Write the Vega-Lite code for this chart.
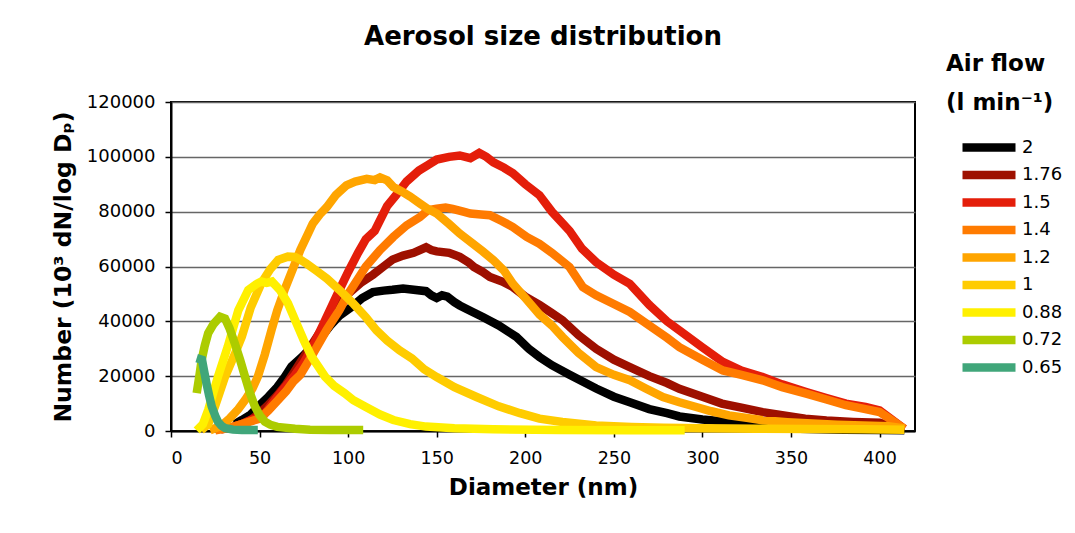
{
  "$schema": "https://vega.github.io/schema/vega-lite/v6.json",
  "width": 744,
  "height": 329,
  "autosize": {"type": "none"},
  "padding": {"left": 171, "top": 102, "right": 160, "bottom": 102},
  "background": "white",
  "title": {"text": "Aerosol size distribution", "fontSize": 26, "fontWeight": "bold", "font": "DejaVu Sans", "color": "black", "offset": 3, "anchor": "middle"},
  "config": {
    "font": "DejaVu Sans",
    "view": {"stroke": "black", "strokeWidth": 2}
  },
  "data": {"values": [
    {"s":"2","d":36,"v":2500},{"s":"2","d":40,"v":4000},{"s":"2","d":45,"v":6000},{"s":"2","d":51,"v":10000},{"s":"2","d":55,"v":12500},{"s":"2","d":60,"v":16000},{"s":"2","d":64,"v":19500},{"s":"2","d":68,"v":23500},{"s":"2","d":74,"v":27000},{"s":"2","d":80,"v":31000},{"s":"2","d":85,"v":34400},{"s":"2","d":90,"v":38500},{"s":"2","d":95,"v":42000},{"s":"2","d":102,"v":45300},{"s":"2","d":108,"v":48500},{"s":"2","d":114,"v":50700},{"s":"2","d":120,"v":51200},{"s":"2","d":125,"v":51500},{"s":"2","d":131,"v":52000},{"s":"2","d":137,"v":51500},{"s":"2","d":144,"v":51000},{"s":"2","d":147,"v":49500},{"s":"2","d":150,"v":48500},{"s":"2","d":153,"v":49500},{"s":"2","d":156,"v":49000},{"s":"2","d":160,"v":47000},{"s":"2","d":163,"v":45800},{"s":"2","d":170,"v":43500},{"s":"2","d":176,"v":41600},{"s":"2","d":185,"v":38500},{"s":"2","d":195,"v":34300},{"s":"2","d":202,"v":30000},{"s":"2","d":208,"v":27000},{"s":"2","d":215,"v":24000},{"s":"2","d":225,"v":20500},{"s":"2","d":231,"v":18500},{"s":"2","d":240,"v":15500},{"s":"2","d":250,"v":12500},{"s":"2","d":259,"v":10500},{"s":"2","d":270,"v":8000},{"s":"2","d":280,"v":6500},{"s":"2","d":287,"v":5300},{"s":"2","d":300,"v":4200},{"s":"2","d":315,"v":3300},{"s":"2","d":325,"v":2500},{"s":"2","d":334,"v":1500},{"s":"2","d":345,"v":1000},{"s":"2","d":360,"v":700},{"s":"2","d":380,"v":500},{"s":"2","d":400,"v":400},{"s":"2","d":414,"v":300},

    {"s":"1.76","d":33,"v":1000},{"s":"1.76","d":40,"v":2500},{"s":"1.76","d":45,"v":4000},{"s":"1.76","d":50,"v":6500},{"s":"1.76","d":55,"v":9500},{"s":"1.76","d":60,"v":13000},{"s":"1.76","d":65,"v":17000},{"s":"1.76","d":70,"v":22000},{"s":"1.76","d":76,"v":28000},{"s":"1.76","d":84,"v":36000},{"s":"1.76","d":92,"v":44000},{"s":"1.76","d":100,"v":50000},{"s":"1.76","d":107,"v":54000},{"s":"1.76","d":114,"v":57000},{"s":"1.76","d":120,"v":60000},{"s":"1.76","d":125,"v":62500},{"s":"1.76","d":131,"v":64000},{"s":"1.76","d":137,"v":65000},{"s":"1.76","d":144,"v":67000},{"s":"1.76","d":147,"v":66000},{"s":"1.76","d":150,"v":65500},{"s":"1.76","d":157,"v":65000},{"s":"1.76","d":163,"v":63500},{"s":"1.76","d":168,"v":61500},{"s":"1.76","d":171,"v":59800},{"s":"1.76","d":176,"v":58000},{"s":"1.76","d":180,"v":56200},{"s":"1.76","d":187,"v":54500},{"s":"1.76","d":193,"v":52500},{"s":"1.76","d":200,"v":49000},{"s":"1.76","d":208,"v":46000},{"s":"1.76","d":215,"v":43000},{"s":"1.76","d":221,"v":40400},{"s":"1.76","d":230,"v":35000},{"s":"1.76","d":240,"v":30000},{"s":"1.76","d":250,"v":26000},{"s":"1.76","d":259,"v":23300},{"s":"1.76","d":270,"v":20000},{"s":"1.76","d":280,"v":17500},{"s":"1.76","d":287,"v":15400},{"s":"1.76","d":300,"v":12500},{"s":"1.76","d":311,"v":10000},{"s":"1.76","d":322,"v":8500},{"s":"1.76","d":334,"v":6900},{"s":"1.76","d":345,"v":5800},{"s":"1.76","d":358,"v":4500},{"s":"1.76","d":370,"v":3800},{"s":"1.76","d":385,"v":3300},{"s":"1.76","d":400,"v":3000},{"s":"1.76","d":414,"v":500},

    {"s":"1.5","d":28,"v":500},{"s":"1.5","d":35,"v":1500},{"s":"1.5","d":40,"v":2500},{"s":"1.5","d":45,"v":4000},{"s":"1.5","d":52,"v":5500},{"s":"1.5","d":56,"v":9000},{"s":"1.5","d":60,"v":12500},{"s":"1.5","d":65,"v":16500},{"s":"1.5","d":70,"v":20500},{"s":"1.5","d":75,"v":25000},{"s":"1.5","d":79,"v":29500},{"s":"1.5","d":86,"v":39000},{"s":"1.5","d":94,"v":50000},{"s":"1.5","d":100,"v":58000},{"s":"1.5","d":105.6,"v":65000},{"s":"1.5","d":110,"v":70000},{"s":"1.5","d":115,"v":73000},{"s":"1.5","d":122,"v":82000},{"s":"1.5","d":127,"v":86000},{"s":"1.5","d":133,"v":91000},{"s":"1.5","d":140,"v":95000},{"s":"1.5","d":145,"v":97000},{"s":"1.5","d":150,"v":99000},{"s":"1.5","d":157,"v":100000},{"s":"1.5","d":163,"v":100500},{"s":"1.5","d":169,"v":99500},{"s":"1.5","d":174,"v":101400},{"s":"1.5","d":178,"v":100000},{"s":"1.5","d":182,"v":98000},{"s":"1.5","d":188,"v":96000},{"s":"1.5","d":193,"v":94000},{"s":"1.5","d":200,"v":90000},{"s":"1.5","d":208,"v":86000},{"s":"1.5","d":215,"v":80000},{"s":"1.5","d":225,"v":73000},{"s":"1.5","d":232,"v":66500},{"s":"1.5","d":240,"v":61600},{"s":"1.5","d":250,"v":57000},{"s":"1.5","d":259,"v":53700},{"s":"1.5","d":270,"v":46000},{"s":"1.5","d":280,"v":40000},{"s":"1.5","d":287,"v":36700},{"s":"1.5","d":300,"v":30500},{"s":"1.5","d":311.5,"v":25200},{"s":"1.5","d":322,"v":22000},{"s":"1.5","d":334,"v":19700},{"s":"1.5","d":345,"v":17000},{"s":"1.5","d":358.6,"v":14200},{"s":"1.5","d":370,"v":12000},{"s":"1.5","d":381,"v":10000},{"s":"1.5","d":392,"v":8800},{"s":"1.5","d":400,"v":7500},{"s":"1.5","d":414,"v":800},

    {"s":"1.4","d":25,"v":300},{"s":"1.4","d":30,"v":800},{"s":"1.4","d":35,"v":1500},{"s":"1.4","d":40,"v":2500},{"s":"1.4","d":45,"v":3500},{"s":"1.4","d":50,"v":4500},{"s":"1.4","d":55,"v":7500},{"s":"1.4","d":60,"v":11000},{"s":"1.4","d":65,"v":14500},{"s":"1.4","d":69,"v":18000},{"s":"1.4","d":73,"v":20500},{"s":"1.4","d":80,"v":28000},{"s":"1.4","d":88,"v":37000},{"s":"1.4","d":95,"v":44000},{"s":"1.4","d":100,"v":50000},{"s":"1.4","d":105,"v":55000},{"s":"1.4","d":110,"v":60000},{"s":"1.4","d":118,"v":66000},{"s":"1.4","d":125.5,"v":70800},{"s":"1.4","d":133,"v":75000},{"s":"1.4","d":140.5,"v":78000},{"s":"1.4","d":145,"v":80500},{"s":"1.4","d":150,"v":81100},{"s":"1.4","d":155,"v":81500},{"s":"1.4","d":159,"v":81000},{"s":"1.4","d":165,"v":80000},{"s":"1.4","d":169,"v":79300},{"s":"1.4","d":175,"v":79000},{"s":"1.4","d":180,"v":78700},{"s":"1.4","d":187,"v":76500},{"s":"1.4","d":193,"v":74400},{"s":"1.4","d":200.8,"v":70800},{"s":"1.4","d":208,"v":68300},{"s":"1.4","d":215,"v":65000},{"s":"1.4","d":225,"v":59800},{"s":"1.4","d":232.5,"v":52500},{"s":"1.4","d":240,"v":49500},{"s":"1.4","d":249.4,"v":46500},{"s":"1.4","d":259,"v":43400},{"s":"1.4","d":270,"v":38500},{"s":"1.4","d":280,"v":34000},{"s":"1.4","d":287,"v":30600},{"s":"1.4","d":300,"v":26000},{"s":"1.4","d":311.5,"v":22100},{"s":"1.4","d":322,"v":20500},{"s":"1.4","d":334,"v":18500},{"s":"1.4","d":345,"v":16000},{"s":"1.4","d":358.6,"v":13600},{"s":"1.4","d":370,"v":11500},{"s":"1.4","d":381,"v":9400},{"s":"1.4","d":392,"v":8000},{"s":"1.4","d":400,"v":6900},{"s":"1.4","d":414,"v":800},

    {"s":"1.2","d":22,"v":200},{"s":"1.2","d":28.6,"v":2000},{"s":"1.2","d":33,"v":4500},{"s":"1.2","d":38,"v":8000},{"s":"1.2","d":42,"v":11500},{"s":"1.2","d":46,"v":15500},{"s":"1.2","d":49,"v":19800},{"s":"1.2","d":53,"v":28000},{"s":"1.2","d":56.8,"v":37000},{"s":"1.2","d":60,"v":44000},{"s":"1.2","d":64.4,"v":52000},{"s":"1.2","d":69,"v":59500},{"s":"1.2","d":73,"v":66000},{"s":"1.2","d":77,"v":71500},{"s":"1.2","d":80,"v":75600},{"s":"1.2","d":84,"v":79000},{"s":"1.2","d":88,"v":81700},{"s":"1.2","d":93,"v":86000},{"s":"1.2","d":99,"v":89600},{"s":"1.2","d":104,"v":91000},{"s":"1.2","d":110.5,"v":92000},{"s":"1.2","d":115,"v":91500},{"s":"1.2","d":118,"v":92500},{"s":"1.2","d":122,"v":91400},{"s":"1.2","d":125.5,"v":89000},{"s":"1.2","d":130,"v":87500},{"s":"1.2","d":135,"v":85500},{"s":"1.2","d":140.5,"v":83000},{"s":"1.2","d":145,"v":81000},{"s":"1.2","d":150,"v":79300},{"s":"1.2","d":157,"v":75500},{"s":"1.2","d":163,"v":72000},{"s":"1.2","d":170,"v":68500},{"s":"1.2","d":176,"v":65500},{"s":"1.2","d":182,"v":62300},{"s":"1.2","d":188,"v":58500},{"s":"1.2","d":193,"v":53700},{"s":"1.2","d":200,"v":48500},{"s":"1.2","d":208,"v":42500},{"s":"1.2","d":215,"v":38500},{"s":"1.2","d":221,"v":34300},{"s":"1.2","d":230,"v":28500},{"s":"1.2","d":240,"v":23300},{"s":"1.2","d":250,"v":20500},{"s":"1.2","d":259,"v":18500},{"s":"1.2","d":268,"v":15500},{"s":"1.2","d":277.7,"v":12400},{"s":"1.2","d":287,"v":10500},{"s":"1.2","d":296.5,"v":8750},{"s":"1.2","d":305,"v":7200},{"s":"1.2","d":315,"v":5700},{"s":"1.2","d":325,"v":4800},{"s":"1.2","d":334,"v":3900},{"s":"1.2","d":348,"v":3200},{"s":"1.2","d":362,"v":2700},{"s":"1.2","d":376,"v":2300},{"s":"1.2","d":390.5,"v":2000},{"s":"1.2","d":405,"v":1700},{"s":"1.2","d":414,"v":900},

    {"s":"1","d":17,"v":300},{"s":"1","d":21,"v":2500},{"s":"1","d":24.8,"v":8900},{"s":"1","d":30.5,"v":19800},{"s":"1","d":36,"v":28000},{"s":"1","d":40,"v":34400},{"s":"1","d":45,"v":45000},{"s":"1","d":51,"v":53900},{"s":"1","d":56,"v":59000},{"s":"1","d":60.5,"v":62400},{"s":"1","d":66,"v":63600},{"s":"1","d":70,"v":63500},{"s":"1","d":73,"v":62500},{"s":"1","d":76.6,"v":61000},{"s":"1","d":82,"v":58500},{"s":"1","d":88,"v":55600},{"s":"1","d":95,"v":51500},{"s":"1","d":103,"v":46400},{"s":"1","d":110,"v":41500},{"s":"1","d":116,"v":36700},{"s":"1","d":122,"v":33000},{"s":"1","d":129,"v":29400},{"s":"1","d":136,"v":26500},{"s":"1","d":143,"v":22500},{"s":"1","d":150,"v":19700},{"s":"1","d":160,"v":16000},{"s":"1","d":172.5,"v":12400},{"s":"1","d":185,"v":9000},{"s":"1","d":197,"v":6500},{"s":"1","d":208,"v":4500},{"s":"1","d":221,"v":3300},{"s":"1","d":240,"v":2000},{"s":"1","d":260,"v":1500},{"s":"1","d":278,"v":1200},{"s":"1","d":300,"v":1000},{"s":"1","d":330,"v":800},{"s":"1","d":360,"v":700},{"s":"1","d":390,"v":600},{"s":"1","d":414,"v":500},

    {"s":"0.88","d":14.5,"v":200},{"s":"0.88","d":18,"v":2500},{"s":"0.88","d":21,"v":7700},{"s":"0.88","d":26.5,"v":19800},{"s":"0.88","d":32,"v":30700},{"s":"0.88","d":38,"v":44000},{"s":"0.88","d":43.6,"v":51400},{"s":"0.88","d":48,"v":53500},{"s":"0.88","d":51,"v":54500},{"s":"0.88","d":54,"v":54000},{"s":"0.88","d":57,"v":54500},{"s":"0.88","d":59,"v":53100},{"s":"0.88","d":61.5,"v":51400},{"s":"0.88","d":66,"v":46600},{"s":"0.88","d":71.7,"v":38000},{"s":"0.88","d":75,"v":33000},{"s":"0.88","d":79.4,"v":27100},{"s":"0.88","d":87,"v":19800},{"s":"0.88","d":92,"v":16500},{"s":"0.88","d":98,"v":13800},{"s":"0.88","d":103,"v":11200},{"s":"0.88","d":109.5,"v":8900},{"s":"0.88","d":118,"v":6000},{"s":"0.88","d":125.5,"v":4000},{"s":"0.88","d":135,"v":2500},{"s":"0.88","d":144,"v":1600},{"s":"0.88","d":160,"v":1000},{"s":"0.88","d":182,"v":600},{"s":"0.88","d":220,"v":400},{"s":"0.88","d":260,"v":300},{"s":"0.88","d":290,"v":300},

    {"s":"0.72","d":14.5,"v":13800},{"s":"0.72","d":16,"v":20000},{"s":"0.72","d":17.3,"v":25900},{"s":"0.72","d":19,"v":31000},{"s":"0.72","d":21,"v":35700},{"s":"0.72","d":24,"v":39000},{"s":"0.72","d":27.7,"v":41700},{"s":"0.72","d":30.5,"v":41000},{"s":"0.72","d":33,"v":37500},{"s":"0.72","d":36,"v":32000},{"s":"0.72","d":39,"v":26000},{"s":"0.72","d":41.8,"v":19800},{"s":"0.72","d":44.5,"v":14000},{"s":"0.72","d":47.4,"v":8900},{"s":"0.72","d":50,"v":5800},{"s":"0.72","d":53,"v":3400},{"s":"0.72","d":56,"v":2300},{"s":"0.72","d":60,"v":1500},{"s":"0.72","d":70,"v":800},{"s":"0.72","d":78.5,"v":500},{"s":"0.72","d":90,"v":400},{"s":"0.72","d":108.5,"v":400},

    {"s":"0.65","d":14.5,"v":26600},{"s":"0.65","d":17.5,"v":26000},{"s":"0.65","d":18.5,"v":22500},{"s":"0.65","d":20,"v":17500},{"s":"0.65","d":21.5,"v":13000},{"s":"0.65","d":23,"v":8900},{"s":"0.65","d":25,"v":5500},{"s":"0.65","d":26.5,"v":3400},{"s":"0.65","d":28.5,"v":1900},{"s":"0.65","d":30.7,"v":1000},{"s":"0.65","d":35,"v":500},{"s":"0.65","d":40,"v":400},{"s":"0.65","d":49,"v":400}
  ]},
  "mark": {"type": "line", "strokeWidth": 8.5},
  "encoding": {
    "x": {
      "field": "d", "type": "quantitative",
      "scale": {"domain": [0, 420], "nice": false, "zero": true},
      "axis": {
        "title": "Diameter (nm)", "values": [0, 50, 100, 150, 200, 250, 300, 350, 400],
        "grid": false, "labelFontSize": 17.5, "labelColor": "black", "labelPadding": 12,
        "tickSize": 6, "tickColor": "black", "tickWidth": 1.5, "domainColor": "black", "domainWidth": 2,
        "titleFontSize": 23, "titleFontWeight": "bold", "titleColor": "black", "titlePadding": 10
      }
    },
    "y": {
      "field": "v", "type": "quantitative",
      "scale": {"domain": [0, 120000], "nice": false},
      "axis": {
        "title": "Number (10³ dN/log Dₚ)", "values": [0, 20000, 40000, 60000, 80000, 100000, 120000],
        "format": "d", "grid": true, "gridColor": "#666666", "gridWidth": 1.5,
        "labelFontSize": 18, "labelColor": "black", "labelPadding": 10,
        "tickSize": 6, "tickColor": "black", "tickWidth": 1.5, "domainColor": "black", "domainWidth": 2,
        "titleFontSize": 23.5, "titleFontWeight": "bold", "titleColor": "black", "titlePadding": 11
      }
    },
    "color": {
      "field": "s", "type": "nominal",
      "scale": {
        "domain": ["2", "1.76", "1.5", "1.4", "1.2", "1", "0.88", "0.72", "0.65"],
        "range": ["#000000", "#9E1000", "#E41E0A", "#FF7B00", "#FFA500", "#FFCC00", "#FFF000", "#ACCC00", "#40A67A"]
      },
      "legend": {
        "orient": "none", "legendX": 775, "legendY": -49, "padding": 0,
        "title": ["Air flow", "(l min⁻¹)"], "titleFontSize": 23, "titleFontWeight": "bold", "titleColor": "black",
        "titleLineHeight": 39, "titlePadding": 23, "titleAlign": "left",
        "symbolType": "M1.4,0H12", "symbolSize": 100, "symbolStrokeWidth": 8.5,
        "labelFontSize": 18, "labelColor": "black", "labelOffset": 57, "rowPadding": -7.5
      }
    }
  }
}
